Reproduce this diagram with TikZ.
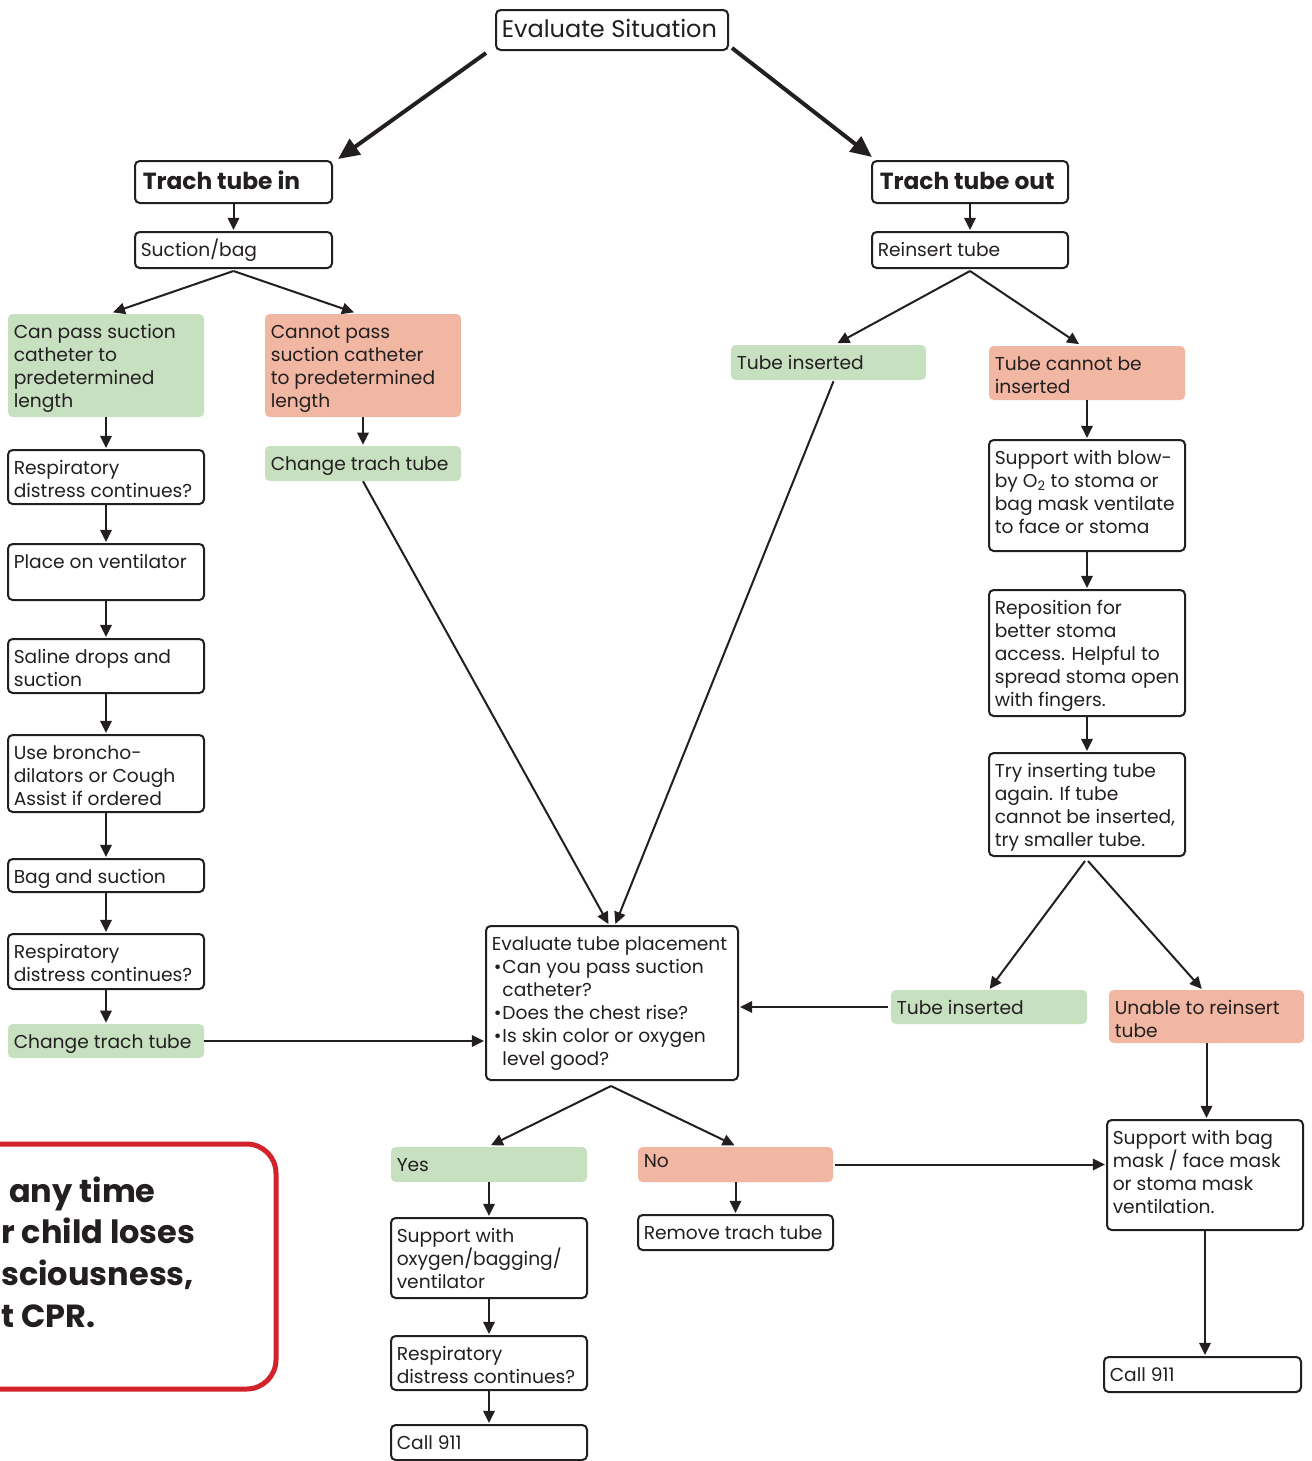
\documentclass[tikz,border=0pt]{standalone}
\usepackage{fontspec}
\setmainfont{Poppins}
\usetikzlibrary{arrows.meta,fit,calc}
\definecolor{gfill}{HTML}{C6E0C0}
\definecolor{rfill}{HTML}{F1B7A3}
\definecolor{ink}{HTML}{231F20}
\definecolor{cprred}{HTML}{D2232A}
\newcommand\fs{\fontsize{14pt}{17.25pt}\selectfont}
\newcommand\hdfont{\fontsize{17.5pt}{20pt}\selectfont\bfseries}
\newcommand\esfont{\fontsize{18pt}{20pt}\selectfont}
\newcommand\cprfont{\fontsize{24pt}{31.5pt}\selectfont\bfseries}
\newcommand\bul{\hspace*{1.5pt}\makebox[6.5pt][l]{\textbullet}}
\newcommand\hang{\hspace*{8pt}}
\tikzset{
  basebox/.style={inner sep=0pt, rounded corners=3.5pt},
  wbox/.style={basebox, draw=ink, line width=1.5pt, fill=white},
  gbox/.style={basebox, fill=gfill},
  rbox/.style={basebox, fill=rfill},
  txt/.style={inner sep=0pt, anchor=north west, align=left, text=ink, font=\fs},
  arr/.style={draw=ink, line width=1.5pt, -{Triangle[length=9pt,width=8.5pt]}, shorten >=0.8pt},
  bigarr/.style={draw=ink, line width=3pt, -{Triangle[length=16pt,width=14pt]}},
  cprtxt/.style={inner sep=0pt, anchor=base west, text=ink, font=\cprfont},
}
% \bx[text keys]{style}{name}{x1}{y1}{x2}{y2}{text}
\newcommand\bx[8][]{%
  \node[#2, fit={(#4,#5) (#6,#7)}] (#3) {};
  \node[txt,#1] (#3t) at ({#4+5.5},#5) {\rule{0pt}{18pt}#8};
}
\begin{document}
\begin{tikzpicture}[x=0.75pt,y=-0.75pt]
\useasboundingbox (0,0) rectangle (1312,1461);
\fill[white] (0,0) rectangle (1312,1461);

% top
\bx[font=\esfont]{wbox}{es}{496}{10}{728}{50}{\rule{0pt}{20.5pt}Evaluate Situation}
\bx[font=\hdfont, xshift=1.5pt]{wbox}{ti}{135}{161}{332}{203}{\rule{0pt}{21pt}Trach tube in}
\bx[font=\hdfont, xshift=1.5pt]{wbox}{to}{872}{161}{1068}{203}{\rule{0pt}{21pt}Trach tube out}
\bx{wbox}{suc}{135}{232}{332}{268}{Suction/bag}
\bx{wbox}{ri}{872}{232}{1068}{268}{Reinsert tube}

% left column
\bx{gbox}{cp}{8}{314}{204}{417}{Can pass suction\\catheter to\\predetermined\\length}
\bx{rbox}{cn}{265}{314}{461}{417}{Cannot pass\\suction catheter\\to predetermined\\length}
\bx{gbox}{ct}{265}{446}{461}{481}{Change trach tube}
\bx{wbox}{rda}{8}{450}{204}{504}{Respiratory\\distress continues?}
\bx{wbox}{pv}{8}{544}{204}{600}{Place on ventilator}
\bx{wbox}{sd}{8}{639}{204}{693}{Saline drops and\\suction}
\bx{wbox}{ub}{8}{735}{204}{812}{Use broncho-\\dilators or Cough\\Assist if ordered}
\bx{wbox}{bs}{8}{859}{204}{892}{Bag and suction}
\bx{wbox}{rdb}{8}{934}{204}{989}{Respiratory\\distress continues?}
\bx{gbox}{cg}{8}{1024}{204}{1058}{Change trach tube}

% right column
\bx{gbox}{tia}{731}{345}{926}{380}{Tube inserted}
\bx{rbox}{tc}{989}{346}{1185}{400}{Tube cannot be\\inserted}
\bx{wbox}{sb}{989}{440}{1185}{551}{Support with blow-\\by O\textsubscript{2} to stoma or\\bag mask ventilate\\to face or stoma}
\bx{wbox}{rp}{989}{590}{1185}{716}{Reposition for\\better stoma\\access. Helpful to\\spread stoma open\\with fingers.}
\bx{wbox}{tr}{989}{753}{1185}{856}{Try inserting tube\\again. If tube\\cannot be inserted,\\try smaller tube.}
\bx{gbox}{tib}{891}{990}{1087}{1024}{Tube inserted}
\bx{rbox}{ur}{1109}{990}{1304}{1043}{Unable to reinsert\\tube}
\bx{wbox}{sm}{1107}{1120}{1303}{1230}{Support with bag\\mask / face mask\\or stoma mask\\ventilation.}
\bx{wbox}{cr}{1104}{1357}{1301}{1392}{Call 911}

% centre
\bx{wbox}{ev}{486}{926}{738}{1080}{Evaluate tube placement\\\bul Can you pass suction\\\hang catheter?\\\bul Does the chest rise?\\\bul Is skin color or oxygen\\\hang level good?}
\bx{gbox}{yes}{391}{1147}{587}{1182}{Yes}
\bx[yshift=2.5pt]{rbox}{no}{638}{1147}{833}{1182}{No}
\bx{wbox}{so}{391}{1218}{587}{1298}{Support with\\oxygen/bagging/\\ventilator}
\bx{wbox}{rm}{638}{1215}{833}{1250}{Remove trach tube}
\bx{wbox}{rdc}{391}{1336}{587}{1390}{Respiratory\\distress continues?}
\bx{wbox}{cl}{391}{1425}{587}{1460}{Call 911}

% CPR notice (cut off at the left edge, as in the reference)
\draw[cprred, line width=3.75pt, rounded corners=22pt] (-80,1144) rectangle (276,1389);
\node[cprtxt] (cpra) at (9,1202) {any time};
\node[cprtxt] (cprb) at (1,1243) {r child loses};
\node[cprtxt] (cprc) at (1,1285) {sciousness,};
\node[cprtxt] (cprd) at (1,1327) {t CPR.};

% connectors
\draw[bigarr] ($(es.south west)+(-9,2)$) -- ($(ti.north east)+(5,-1)$);
\draw[bigarr] ($(es.south east)+(3,-3)$) -- ($(to.north west)+(1,-3)$);
\draw[arr] (ti) -- (suc);
\draw[arr] (to) -- (ri);
\draw[arr] ($(suc.south)+(0,2)$) -- ($(cp.north)+(6,-1)$);
\draw[arr] ($(suc.south)+(0,2)$) -- ($(cn.north)+(-8,-1)$);
\draw[arr] (cp) -- (rda);
\draw[arr] (rda) -- (pv);
\draw[arr] (pv) -- (sd);
\draw[arr] (sd) -- (ub);
\draw[arr] (ub) -- (bs);
\draw[arr] (bs) -- (rdb);
\draw[arr] (rdb) -- (cg);
\draw[arr] (cg.east) -- (cg.east -| ev.west);
\draw[arr] (cn) -- (ct);
\draw[arr] (ct.south) -- ($(ev.north)+(-3,0)$);
\draw[arr] ($(ri.south)+(0,2)$) -- ($(tia.north)+(8,-1)$);
\draw[arr] ($(ri.south)+(0,2)$) -- ($(tc.north)+(-7,-1)$);
\draw[arr] ($(tia.south)+(5,1)$) -- ($(ev.north)+(3,0)$);
\draw[arr] (tc) -- (sb);
\draw[arr] (sb) -- (rp);
\draw[arr] (rp) -- (tr);
\draw[arr] ($(tr.south)+(-2,4)$) -- (tib.north);
\draw[arr] ($(tr.south)+(1,4)$) -- ($(ur.north)+(-4,0)$);
\draw[arr, shorten <=2pt] (tib.west) -- (tib.west -| ev.east);
\draw[arr] (ur.south) -- (ur.south |- sm.north);
\draw[arr] (sm.south) -- (sm.south |- cr.north);
\draw[arr] ($(ev.south)+(-1,5)$) -- ($(yes.north)+(1,-1)$);
\draw[arr] ($(ev.south)+(-1,5)$) -- ($(no.north)+(0,-1)$);
\draw[arr] (yes) -- (so);
\draw[arr] (so) -- (rdc);
\draw[arr] (rdc) -- (cl);
\draw[arr] (no) -- (rm);
\draw[arr, shorten <=1.5pt] (no.east) -- (no.east -| sm.west);
\end{tikzpicture}
\end{document}
